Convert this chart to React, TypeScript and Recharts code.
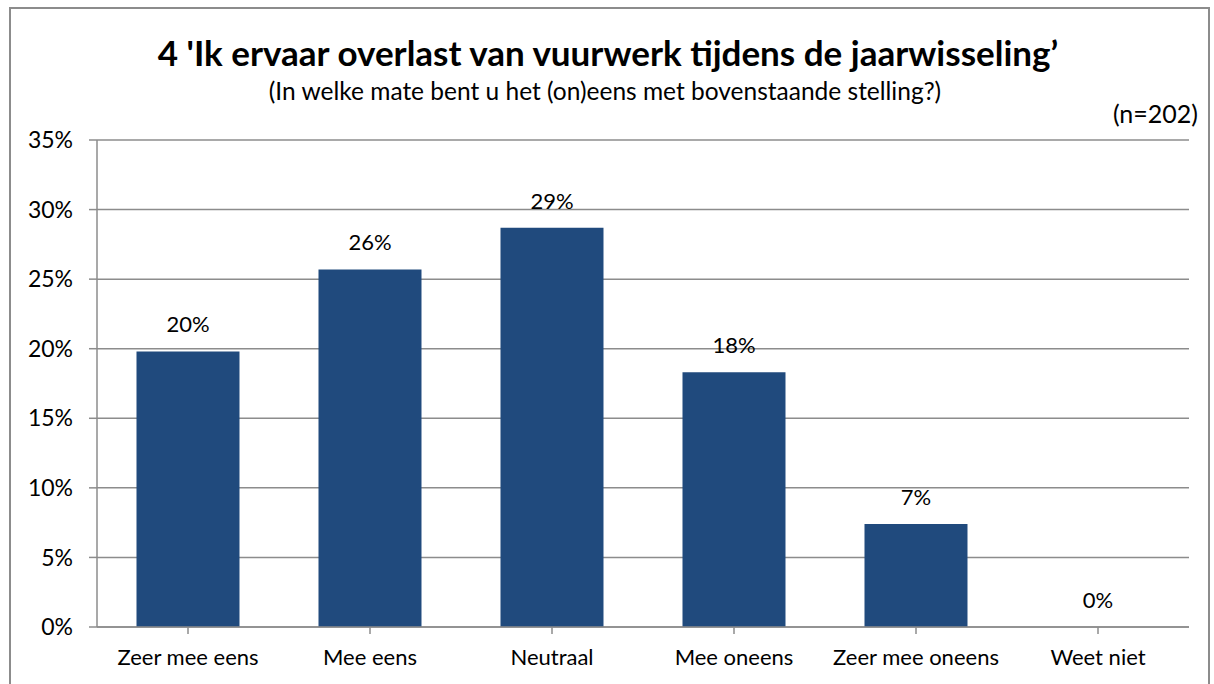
import React from 'react';
import { ComposedChart, Bar, Line, XAxis, YAxis, CartesianGrid, LabelList } from 'recharts';

const categories = ['Zeer mee eens', 'Mee eens', 'Neutraal', 'Mee oneens', 'Zeer mee oneens', 'Weet niet'];
const shares = [19.8, 25.7, 28.7, 18.3, 7.4, 0];
const yTicks = [0, 5, 10, 15, 20, 25, 30, 35];

const data = categories.map((name, i) => ({ name, value: shares[i] }));

const FONT = 'Lato, "Open Sans", sans-serif';

export default function App() {
    return (
        <div style={{ position: 'absolute', left: 0, top: 0, width: 1214, height: 684, background: '#fff', overflow: 'hidden', fontFamily: FONT }}>
            <div style={{ position: 'absolute', left: 9, top: 7, width: 1197, height: 700, border: '2px solid #8c8c8c' }} />
            <div style={{ position: 'absolute', left: 0, top: 31, width: 1216, textAlign: 'center', fontSize: 35, fontWeight: 'bold', color: '#000', whiteSpace: 'nowrap' }}>
                4 'Ik ervaar overlast van vuurwerk tijdens de jaarwisseling’
            </div>
            <div style={{ position: 'absolute', left: 0, top: 76, width: 1210, textAlign: 'center', fontSize: 24.5, color: '#000', whiteSpace: 'nowrap' }}>
                (In welke mate bent u het (on)eens met bovenstaande stelling?)
            </div>
            <div style={{ position: 'absolute', right: 16, top: 98, fontSize: 25, color: '#000' }}>
                (n=202)
            </div>
            <div style={{ position: 'absolute', left: 0, top: 0 }}>
                <ComposedChart
                    width={1214}
                    height={684}
                    data={data}
                    margin={{ top: 140, right: 25, bottom: 0, left: 0 }}
                    barCategoryGap="21.7%"
                >
                    <CartesianGrid vertical={false} stroke="#8c8c8c" strokeWidth={1.5} />
                    <XAxis
                        dataKey="name"
                        height={57}
                        axisLine={{ stroke: '#8c8c8c', strokeWidth: 1.5 }}
                        tickLine={{ stroke: '#8c8c8c', strokeWidth: 1.5 }}
                        tickSize={7}
                        interval={0}
                        tick={{ fontSize: 22, fill: '#000', fontFamily: FONT }}
                        tickMargin={15}
                    />
                    <YAxis
                        width={97}
                        domain={[0, 35]}
                        ticks={yTicks}
                        tickFormatter={(v) => `${v}%`}
                        axisLine={{ stroke: '#8c8c8c', strokeWidth: 1.5 }}
                        tickLine={{ stroke: '#8c8c8c', strokeWidth: 1.5 }}
                        tickSize={8}
                        tickMargin={16}
                        tick={{ fontSize: 23, fill: '#000', fontFamily: FONT }}
                    />
                    <Bar dataKey="value" fill="#204a7d" isAnimationActive={false} />
                    <Line
                        dataKey="value"
                        stroke="none"
                        dot={false}
                        activeDot={false}
                        isAnimationActive={false}
                    >
                        <LabelList
                            dataKey="value"
                            position="top"
                            offset={19}
                            formatter={(v: any) => `${Math.round(Number(v))}%`}
                            style={{ fontSize: 22, fill: '#000', fontFamily: FONT }}
                        />
                    </Line>
                </ComposedChart>
            </div>
        </div>
    );
}
